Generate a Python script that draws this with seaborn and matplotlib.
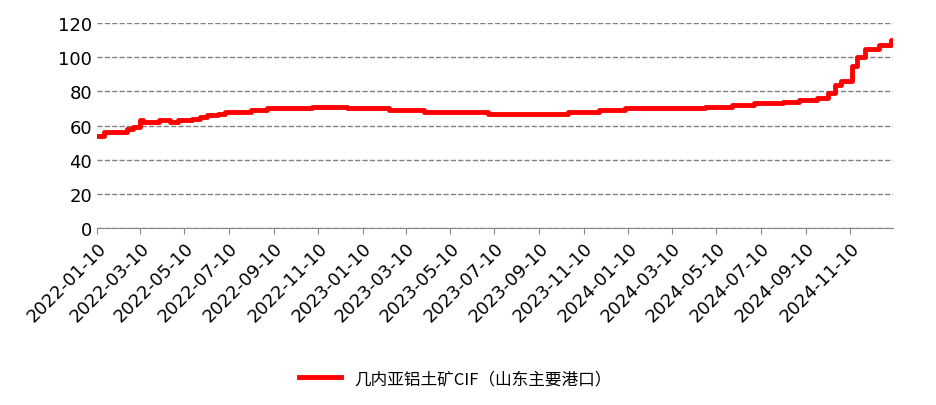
import pandas as pd
import numpy as np
import matplotlib
matplotlib.use("Agg")
import matplotlib.pyplot as plt
import matplotlib.dates as mdates
import seaborn as sns

# change points of the step series (date, price)
change_dates = ["2022-01-10", "2022-01-20", "2022-02-20", "2022-03-01", "2022-03-10", "2022-03-14",
                "2022-04-05", "2022-04-20", "2022-05-01", "2022-05-20", "2022-06-01", "2022-06-10",
                "2022-06-25", "2022-07-05", "2022-08-10", "2022-09-01", "2022-11-01", "2022-12-20",
                "2023-02-15", "2023-04-05", "2023-07-01", "2023-10-20", "2023-12-01", "2024-01-05",
                "2024-04-25", "2024-06-01", "2024-07-01", "2024-08-10", "2024-09-01", "2024-09-25",
                "2024-10-10", "2024-10-20", "2024-10-28", "2024-11-12", "2024-11-20", "2024-12-01",
                "2024-12-20", "2025-01-05", "2025-01-08"]
change_values = [54, 56, 58, 59, 63, 62,
                 63, 62, 63, 64, 65, 66,
                 67, 68, 69, 70, 71, 70,
                 69, 68, 67, 68, 69, 70,
                 71, 72, 73, 74, 75, 76,
                 79, 84, 86, 95, 100, 105,
                 107, 110, 110]

tick_dates = pd.date_range("2022-01-01", "2024-11-01", freq="2MS") + pd.Timedelta(days=9)

df = pd.DataFrame({"date": pd.to_datetime(change_dates), "price": change_values})

fig = plt.figure(figsize=(9.36, 4.06), dpi=100)
ax = fig.add_axes([97 / 936, 1 - 229 / 406, (893 - 97) / 936, (229 - 24) / 406])
sns.lineplot(data=df, x="date", y="price", ax=ax, color="#ff0000", linewidth=3.5,
             drawstyle="steps-post", label="几内亚铝土矿CIF（山东主要港口）")

ax.set_ylim(0, 120)
ax.set_yticks(range(0, 121, 20))
ax.set_xlim(pd.Timestamp("2022-01-10"), pd.Timestamp("2025-01-08"))
ax.set_xticks(tick_dates)
ax.xaxis.set_major_formatter(mdates.DateFormatter("%Y-%m-%d"))
plt.setp(ax.get_xticklabels(), rotation=45, ha="right", rotation_mode="anchor")
ax.tick_params(axis="both", labelsize=13, length=0)
ax.tick_params(axis="x", length=4, color="#888888")
ax.set_xlabel("")
ax.set_ylabel("")
ax.grid(axis="y", linestyle="--", color="#808080", linewidth=1)
ax.set_axisbelow(True)
for s in ["top", "right", "left"]:
    ax.spines[s].set_visible(False)
ax.spines["bottom"].set_color("#888888")

ax.legend(loc="upper center", bbox_to_anchor=(0.45, -0.62), frameon=False,
          prop={"family": "Noto Sans CJK SC", "size": 12}, handlelength=2.5)

fig.savefig("out.png", dpi=100)
